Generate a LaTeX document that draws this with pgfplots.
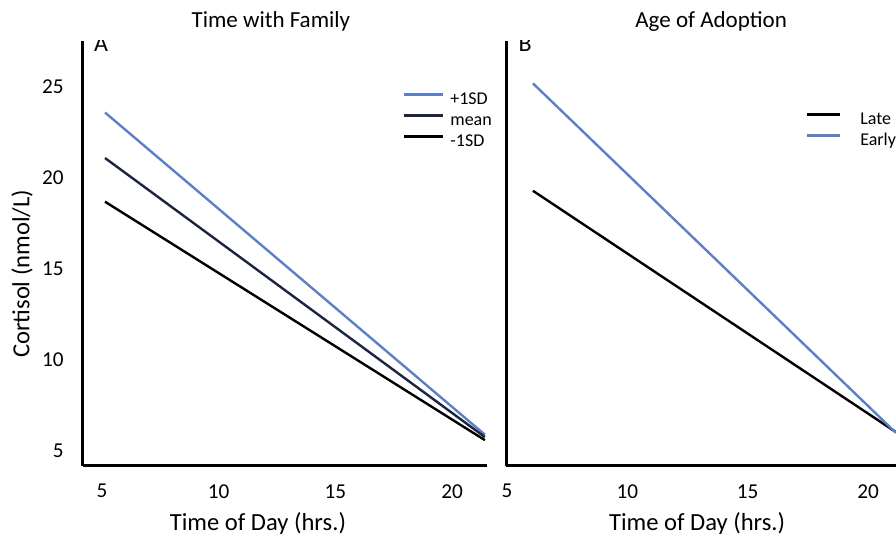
\documentclass[border=0pt]{standalone}
\usepackage{pgfplots}
\pgfplotsset{compat=1.18}
\usepackage{fontspec}
\setmainfont{Carlito}
\definecolor{sdblue}{RGB}{92,128,200}
\definecolor{navy}{RGB}{28,36,66}
\pgfplotsset{
  every axis title shift=0pt,
  panel/.style={
    scale only axis,
    height=212.5pt,
    axis lines=left,
    axis line style={line width=1.5pt,-},
    ymin=4.18, ymax=27.53,
    ytick={5,10,15,20,25},
    major tick length=0pt,
    tick style={draw=none},
    /pgf/number format/assume math mode=true,
    tick label style={font=\fontsize{10.6}{12}\selectfont, inner sep=0pt},
    xticklabel style={anchor=north, yshift=-9pt},
    yticklabel style={anchor=east, xshift=-9.5pt},
    title style={font=\fontsize{11.5}{13}\selectfont, anchor=center, yshift=0pt},
    label style={font=\fontsize{12.3}{14}\selectfont},
    legend cell align=left,
    every axis plot/.append style={line width=1.2pt},
  }
}
\begin{document}
\begin{tikzpicture}
\path[use as bounding box] (0,0) rectangle (448pt,267pt);
% Panel A
\begin{axis}[panel,
  at={(41.5pt,34pt)}, anchor=south west,
  width=202pt,
  xmin=4.186, xmax=21.5,
  xtick={5,10,15,20},
  title={Time with Family},
  title style={at={(axis description cs:0.465,1.045)}},
  ylabel={Cortisol (nmol/L)},
  ylabel style={at={(axis description cs:-0.151,0.452)}, anchor=center, rotate=0},
  xlabel={Time of Day (hrs.)},
  xlabel style={at={(axis description cs:0.433,-0.136)}, anchor=center},
  legend style={at={(axis description cs:0.792,0.878)}, anchor=north west,
    draw=none, fill=none, inner sep=0pt, outer sep=0pt,
    font=\fontsize{9}{10}\selectfont,
    nodes={inner sep=0pt, text height=6pt, text depth=1.5pt},
    row sep=3pt, column sep=3pt},
  legend image code/.code={\draw[#1,yshift=0.3em] (0pt,0pt) -- (19.5pt,0pt);},
]
\addplot[color=sdblue] coordinates {(5.13,23.6) (21.41,5.9)};
\addlegendentry{+1SD}
\addplot[color=navy] coordinates {(5.13,21.1) (21.41,5.77)};
\addlegendentry{mean}
\addplot[color=black] coordinates {(5.13,18.7) (21.41,5.6)};
\addlegendentry{-1SD}
\node[font=\fontsize{12}{13}\selectfont, anchor=center] at (axis description cs:0.045,0.994) {A};
\end{axis}
% Panel B
\begin{axis}[panel,
  at={(253pt,34pt)}, anchor=south west,
  width=195pt,
  xmin=4.96, xmax=21.16,
  xtick={5,10,15,20},
  yticklabels={},
  title={Age of Adoption},
  title style={at={(axis description cs:0.526,1.045)}},
  xlabel={Time of Day (hrs.)},
  xlabel style={at={(axis description cs:0.49,-0.136)}, anchor=center},
  legend style={at={(axis description cs:0.769,0.831)}, anchor=north west,
    draw=none, fill=none, inner sep=0pt, outer sep=0pt,
    font=\fontsize{9}{10}\selectfont,
    nodes={inner sep=0pt, text height=6pt, text depth=1.5pt},
    row sep=3pt, column sep=9.5pt},
  legend image code/.code={\draw[#1,yshift=0.3em] (0pt,0pt) -- (16.5pt,0pt);},
]
\addplot[color=black] coordinates {(6.08,19.3) (21.16,6.04)};
\addlegendentry{Late}
\addplot[color=sdblue] coordinates {(6.08,25.2) (21.16,6.0)};
\addlegendentry{Early}
\node[font=\fontsize{12}{13}\selectfont, anchor=center] at (axis description cs:0.049,0.994) {B};
\end{axis}
\end{tikzpicture}
\end{document}
